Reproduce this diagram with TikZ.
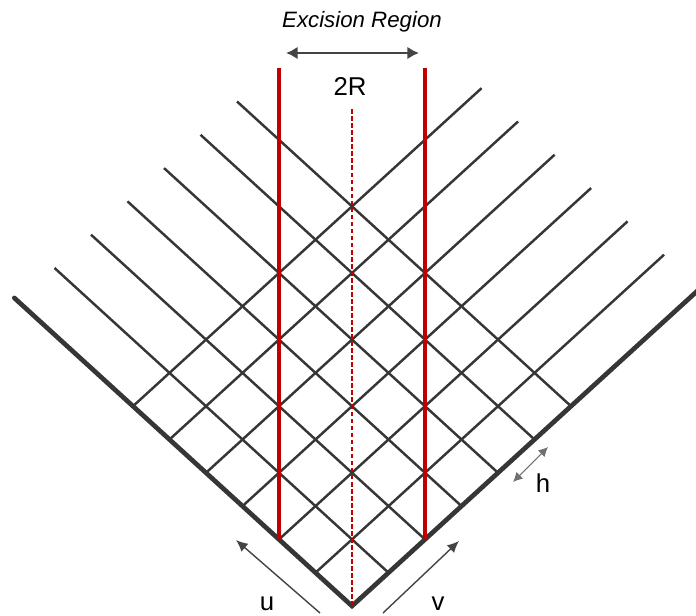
\documentclass[tikz,border=0pt]{standalone}
\usepackage{fontspec}
\setmainfont{Liberation Sans}
\usetikzlibrary{arrows.meta}
\definecolor{Ink}{HTML}{363636}
\definecolor{Muted}{HTML}{444444}
\definecolor{Soft}{HTML}{707070}
\definecolor{Excise}{HTML}{C00000}
\tikzset{
  gridline/.style={draw=Ink,line width=2.1pt},
  boundary/.style={draw=Ink,line width=4pt,line cap=round,line join=miter},
  excision/.style={draw=Excise,line width=3.4pt},
  midline/.style={draw=Excise,line width=1.3pt,dash pattern=on 4pt off 2pt},
  widtharrow/.style={{Latex[length=10pt,width=11pt]}-{Latex[length=10pt,width=11pt]},draw=Muted,line width=2pt},
  dirarrow/.style={-{Latex[length=10pt,width=9pt]},draw=Muted,line width=1.2pt},
  steparrow/.style={{Latex[length=8pt,width=8pt]}-{Latex[length=8pt,width=8pt]},draw=Soft,line width=0.9pt},
  tag/.style={font=\fontsize{22}{26}\selectfont,anchor=base,inner sep=0pt,text=black}
}
\begin{document}
\begin{tikzpicture}[x=0.03cm,y=-0.03cm]
\useasboundingbox (0,0) rectangle (696,616);
% null grid in (v,u)
\begin{scope}[shift={(352,606)},x={(1.095cm,0.999cm)},y={(-1.095cm,0.999cm)}]
\coordinate (apex) at (0,0);
\foreach \k in {1,...,6}{
  \draw[gridline] (\k,0) -- (\k,9.15);
  \draw[gridline] (0,\k) -- (9.55,\k);
}
\draw[boundary] (0,9.25) -- (0,0) -- (9.6,0);
\coordinate (redL) at (0,2);
\coordinate (redR) at (2,0);
\end{scope}
% excision region
\draw[excision] (redL) -- (redL |- 0,68);
\draw[excision] (redR) -- (redR |- 0,68);
\draw[midline] (apex) -- (apex |- 0,108);
\node[tag,font=\fontsize{19}{23}\selectfont\itshape] (title) at (362,28) {Excision Region};
\coordinate (spanL) at (286,53);
\coordinate (spanR) at (419,53);
\draw[widtharrow] (spanL) -- (spanR);
\node[tag] (twoR) at (350,95) {2R};
% directions
\coordinate (uTail) at (320,613);
\coordinate (uTip) at (236,540);
\coordinate (vTail) at (383,613);
\coordinate (vTip) at (459,541);
\coordinate (hLow) at (513,482);
\coordinate (hHigh) at (548,447);
\draw[dirarrow] (uTail) -- (uTip);
\draw[dirarrow] (vTail) -- (vTip);
\draw[steparrow] (hLow) -- (hHigh);
\node[tag] (uLab) at (267,610) {u};
\node[tag] (vLab) at (438,610) {v};
\node[tag] (hLab) at (543,492) {h};
\end{tikzpicture}
\end{document}
